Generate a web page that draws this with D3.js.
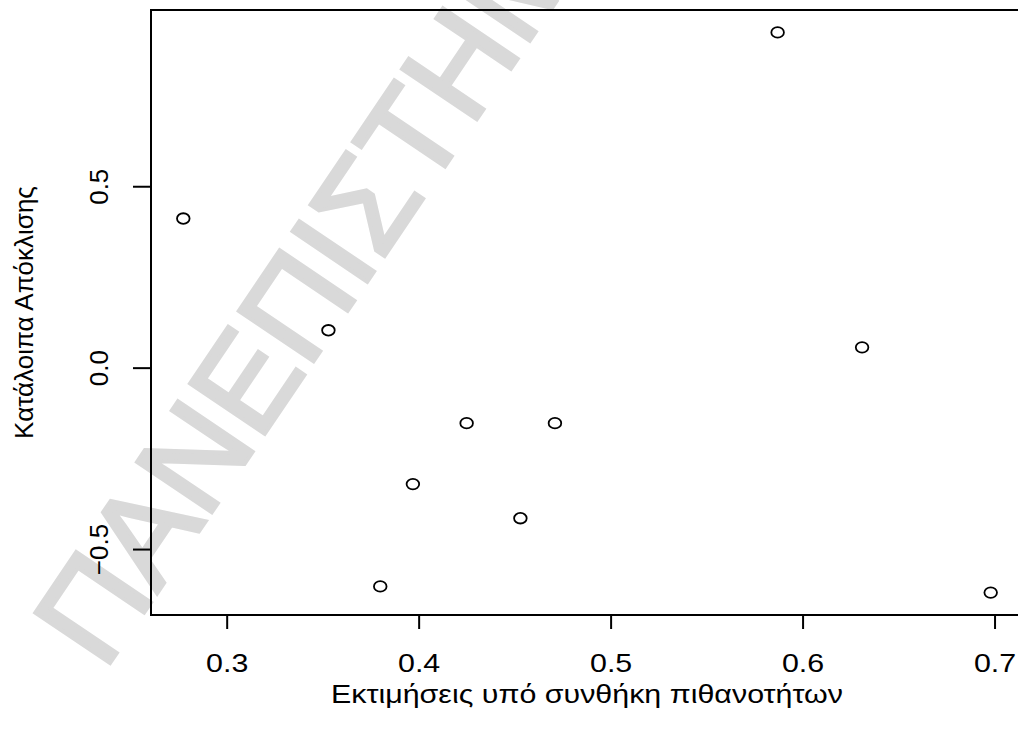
<!DOCTYPE html>
<html>
<head>
<meta charset="utf-8">
<script src="https://cdn.jsdelivr.net/npm/d3@7"></script>
<style>
  html, body { margin: 0; padding: 0; background: #fff; }
  svg { display: block; }
  text { font-family: "Liberation Sans", Arial, Helvetica, sans-serif; fill: #000; }
</style>
</head>
<body>
<svg id="chart" width="1018" height="743"></svg>
<script>
// Fitted probabilities and deviance residuals
const fitted    = [0.2774, 0.353, 0.380, 0.397, 0.425, 0.453, 0.471, 0.587, 0.631, 0.698];
const residuals = [0.411, 0.103, -0.603, -0.321, -0.153, -0.415, -0.153, 0.924, 0.056, -0.620];
const xTicks = [0.3, 0.4, 0.5, 0.6, 0.7];
const yTicks = [-0.5, 0.0, 0.5];
const xTitle = "Εκτιμήσεις υπό συνθήκη πιθανοτήτων";
const yTitle = "Κατάλοιπα Απόκλισης";
const watermark = "ΠΑΝΕΠΙΣΤΗΜΙΟ";

const svg = d3.select("#chart");
const plot = { left: 151, top: 10, right: 1023, bottom: 615 };

// R-style axis range: data extent padded by 4% on each side
function padded(values) {
  const [lo, hi] = d3.extent(values);
  const pad = (hi - lo) * 0.04;
  return [lo - pad, hi + pad];
}

const x = d3.scaleLinear().domain(padded(fitted)).range([plot.left, plot.right]);
const y = d3.scaleLinear().domain(padded(residuals)).range([plot.bottom, plot.top]);

// Faint diagonal watermark behind the plot
svg.append("text")
  .attr("transform", "translate(104,672) rotate(-56)")
  .attr("font-size", 131)
  .style("fill", "#d9d9d9")
  .style("stroke", "#d9d9d9")
  .style("stroke-width", 4)
  .style("stroke-linejoin", "miter")
  .text(watermark);

// Plot frame
svg.append("rect")
  .attr("x", x.range()[0]).attr("y", y.range()[1])
  .attr("width", x.range()[1] - x.range()[0])
  .attr("height", y.range()[0] - y.range()[1])
  .attr("fill", "none").attr("stroke", "#000").attr("stroke-width", 2);

// Bottom axis
const xAxis = svg.append("g")
  .attr("transform", `translate(0,${plot.bottom})`)
  .call(d3.axisBottom(x).tickValues(xTicks).tickSize(14).tickSizeOuter(0).tickFormat(d3.format(".1f")));
xAxis.select(".domain").remove();
xAxis.selectAll("line").attr("stroke-width", 2);
xAxis.selectAll("text")
  .attr("font-size", 26)
  .attr("font-family", "Liberation Sans, Arial, sans-serif")
  .attr("x", 0).attr("y", 0).attr("dy", null)
  .attr("transform", "translate(0,56.5) scale(1.17,1)");

// Left axis with rotated labels
const yAxis = svg.append("g")
  .attr("transform", `translate(${plot.left},0)`)
  .call(d3.axisLeft(y).tickValues(yTicks).tickSize(18).tickSizeOuter(0).tickFormat(d3.format(".1f")));
yAxis.select(".domain").remove();
yAxis.selectAll("line").attr("stroke-width", 2);
yAxis.selectAll("text")
  .attr("font-size", 26)
  .attr("font-family", "Liberation Sans, Arial, sans-serif")
  .attr("dy", null)
  .attr("text-anchor", "middle")
  .attr("transform", "translate(-43,0) rotate(-90)")
  .attr("x", 0).attr("y", 0);

// Points as open circles
svg.append("g")
  .selectAll("ellipse")
  .data(fitted.map((f, i) => ({ f, r: residuals[i] })))
  .join("ellipse")
  .attr("cx", d => x(d.f))
  .attr("cy", d => y(d.r))
  .attr("rx", 6.3)
  .attr("ry", 5.3)
  .attr("fill", "none")
  .attr("stroke", "#000")
  .attr("stroke-width", 1.8);

// Axis titles
svg.append("text")
  .attr("transform", `translate(${(plot.left + plot.right) / 2},703) scale(1.17,1)`)
  .attr("text-anchor", "middle")
  .attr("font-size", 26)
  .text(xTitle);

svg.append("text")
  .attr("transform", `translate(33,${(plot.top + plot.bottom) / 2}) rotate(-90)`)
  .attr("text-anchor", "middle")
  .attr("font-size", 26)
  .text(yTitle);
</script>
</body>
</html>
